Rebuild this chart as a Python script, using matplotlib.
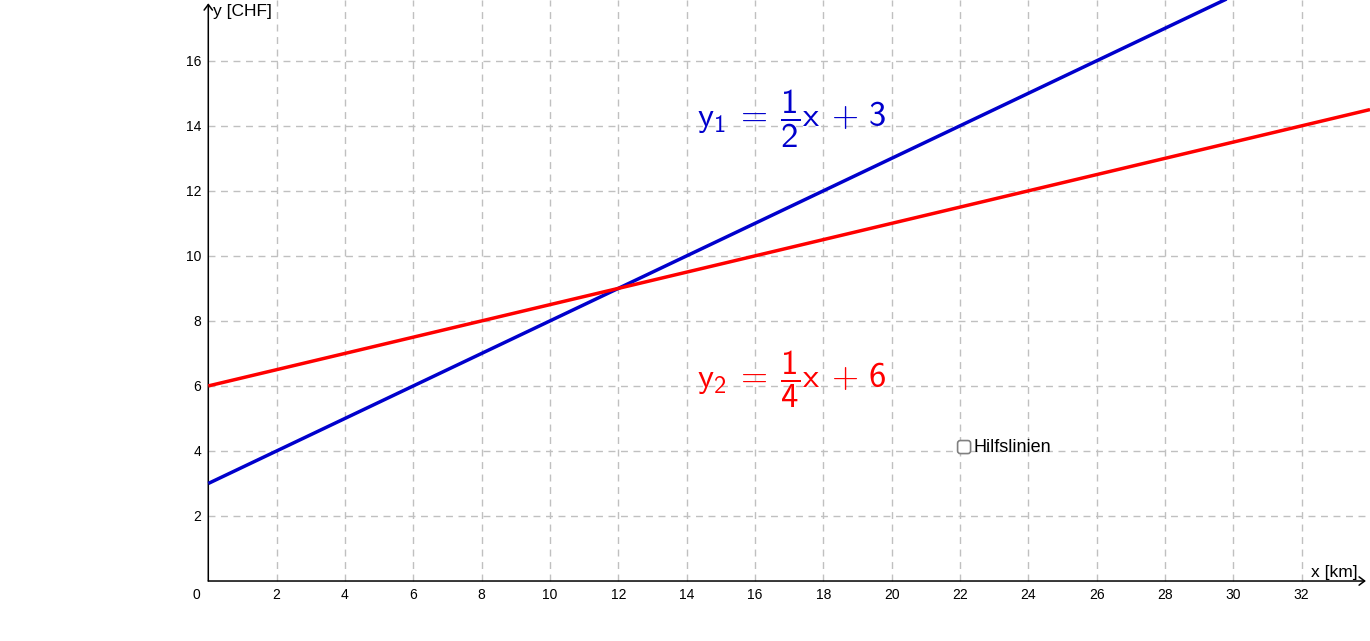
import matplotlib
matplotlib.use("Agg")
import matplotlib.pyplot as plt
from matplotlib.patches import FancyBboxPatch

# ---- data ----
x_ticks = [2, 4, 6, 8, 10, 12, 14, 16, 18, 20, 22, 24, 26, 28, 30, 32]
y_ticks = [2, 4, 6, 8, 10, 12, 14, 16]
line_x = [0, 34]
y1_vals = [3, 20]      # y1 = 1/2 x + 3
y2_vals = [6, 14.5]    # y2 = 1/4 x + 6
x_label = "x [km]"
y_label = "y [CHF]"
eq1 = r"$y_1\;=\;\dfrac{1}{2}x\;+\,3$"
eq2 = r"$y_2\;=\;\dfrac{1}{4}x\;+\,6$"
checkbox_label = "Hilfslinien"

plt.rcParams["font.family"] = ["Liberation Sans", "DejaVu Sans"]
plt.rcParams["mathtext.fontset"] = "custom"
plt.rcParams["mathtext.rm"] = "cmss10"
plt.rcParams["mathtext.it"] = "cmss10"
plt.rcParams["mathtext.sf"] = "cmss10"
plt.rcParams["mathtext.bf"] = "cmss10"

XMIN, XMAX = -6.096, 34.0
YMIN, YMAX = -1.845, 17.87

fig = plt.figure(figsize=(13.7, 6.41), dpi=100)
ax = fig.add_axes([0, 0, 1, 1])
ax.set_xlim(XMIN, XMAX)
ax.set_ylim(YMIN, YMAX)
ax.axis("off")

grid_kw = dict(color="#c0c0c0", lw=1.0, linestyles=(0, (5, 4)), zorder=1)
ax.vlines(x_ticks, 0, YMAX, **grid_kw)
ax.hlines(y_ticks, 0, XMAX, **grid_kw)

# axes with arrows
arrow = dict(arrowstyle="->,head_length=0.4,head_width=0.3", lw=1.1,
             color="black", shrinkA=0, shrinkB=0)
ax.annotate("", xy=(33.88, 0), xytext=(0, 0), arrowprops=arrow, zorder=3)
ax.annotate("", xy=(0, 17.77), xytext=(0, 0), arrowprops=arrow, zorder=3)

# tick labels
for v in x_ticks:
    ax.annotate(str(v), (v, 0), xytext=(0, -13), textcoords="offset points",
                ha="center", va="baseline", fontsize=10)
for v in y_ticks:
    ax.annotate(str(v), (0, v), xytext=(-5, -3.8), textcoords="offset points",
                ha="right", va="baseline", fontsize=10)
ax.annotate("0", (0, 0), xytext=(-8.4, -13), textcoords="offset points",
            ha="center", va="baseline", fontsize=10)

ax.text(0.14, 17.74, y_label, ha="left", va="top", fontsize=12.5)
ax.text(33.65, 0.12, x_label, ha="right", va="baseline", fontsize=12.5)

# lines
ax.plot(line_x, y1_vals, color="#0000cc", lw=2.5, zorder=4, solid_capstyle="butt")
ax.plot(line_x, y2_vals, color="#ff0000", lw=2.5, zorder=4, solid_capstyle="butt")

# equations
ax.text(14.3, 13.97, eq1, color="#0000cc", fontsize=25, ha="left", va="baseline")
ax.text(14.3, 5.97, eq2, color="#ff0000", fontsize=25, ha="left", va="baseline")

# checkbox
box = FancyBboxPatch((21.93, 3.92), 0.38, 0.40,
                     boxstyle="round,pad=0,rounding_size=0.08",
                     mutation_aspect=1.05, fc="white", ec="#808080", lw=1.2, zorder=5)
ax.add_patch(box)
ax.text(22.41, 4.12, checkbox_label, ha="left", va="center", fontsize=13, zorder=5)

fig.savefig("out.png", dpi=100)
